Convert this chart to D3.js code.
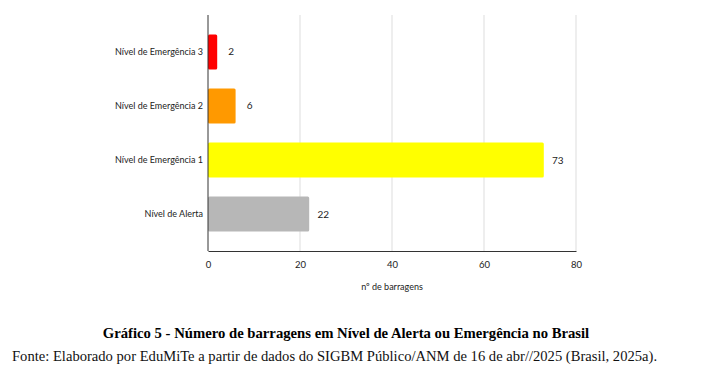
<!DOCTYPE html>
<html>
<head>
<meta charset="utf-8">
<script src="https://cdn.jsdelivr.net/npm/d3@7"></script>
<style>
  body { margin: 0; background: #fff; }
  svg text { font-family: Lato, "Open Sans", sans-serif; }
</style>
</head>
<body>
<svg width="701" height="376"></svg>
<script>
// data
const categories = ["Nível de Emergência 3", "Nível de Emergência 2", "Nível de Emergência 1", "Nível de Alerta"];
const values = [2, 6, 73, 22];
const colors = ["#ff0000", "#ff9900", "#ffff00", "#b7b7b7"];
const xTicks = [0, 20, 40, 60, 80];

const svg = d3.select("svg");

// scales
const x = d3.scaleLinear().domain([0, 80]).range([208, 576]);
const y = d3.scaleBand()
  .domain(categories)
  .range([15, 251])
  .paddingInner(0.35)
  .paddingOuter(0.36);

// grid lines
svg.append("g")
  .selectAll("line")
  .data(xTicks.slice(1))
  .join("line")
  .attr("x1", d => x(d)).attr("x2", d => x(d))
  .attr("y1", 15).attr("y2", 251)
  .attr("stroke", "#dddddd")
  .attr("stroke-width", 1);

// bars
svg.append("g")
  .selectAll("rect")
  .data(values)
  .join("rect")
  .attr("x", x(0))
  .attr("y", (d, i) => y(categories[i]))
  .attr("width", d => x(d) - x(0))
  .attr("height", y.bandwidth())
  .attr("rx", 1.5)
  .attr("fill", (d, i) => colors[i]);

// value labels
svg.append("g")
  .selectAll("text")
  .data(values)
  .join("text")
  .attr("x", d => x(d) + 14)
  .attr("y", (d, i) => y(categories[i]) + y.bandwidth() / 2)
  .attr("dy", "0.35em")
  .attr("text-anchor", "middle")
  .attr("font-size", 10)
  .attr("fill", "#222")
  .text(d => d);

// x axis
const xAxis = svg.append("g")
  .attr("transform", "translate(0,251)")
  .call(d3.axisBottom(x).tickValues(xTicks).tickSize(0).tickPadding(10));
xAxis.select(".domain").attr("stroke", "#333");
xAxis.selectAll("text").attr("font-size", 9.5).attr("fill", "#222")
  .style("font-family", "Lato, sans-serif");

// y axis
const yAxis = svg.append("g")
  .attr("transform", "translate(208,0)")
  .call(d3.axisLeft(y).tickSize(0).tickPadding(5));
yAxis.select(".domain").attr("stroke", "#333").attr("d", "M0,15V251");
yAxis.selectAll("text").attr("font-size", 9).attr("fill", "#222")
  .style("font-family", "Lato, sans-serif");

// axis title
svg.append("text")
  .attr("x", x(40))
  .attr("y", 290)
  .attr("text-anchor", "middle")
  .attr("font-size", 9)
  .attr("fill", "#222")
  .text("nº de barragens");

// caption
svg.append("text")
  .attr("x", 346)
  .attr("y", 338)
  .attr("text-anchor", "middle")
  .attr("font-size", 14.7)
  .attr("font-weight", "bold")
  .style("font-family", "'Liberation Serif', serif")
  .text("Gráfico 5 - Número de barragens em Nível de Alerta ou Emergência no Brasil");

svg.append("text")
  .attr("x", 12)
  .attr("y", 361)
  .attr("font-size", 14.6)
  .style("font-family", "'Liberation Serif', serif")
  .attr("fill", "#111")
  .text("Fonte: Elaborado por EduMiTe a partir de dados do SIGBM Público/ANM de 16 de abr//2025 (Brasil, 2025a).");
</script>
</body>
</html>
